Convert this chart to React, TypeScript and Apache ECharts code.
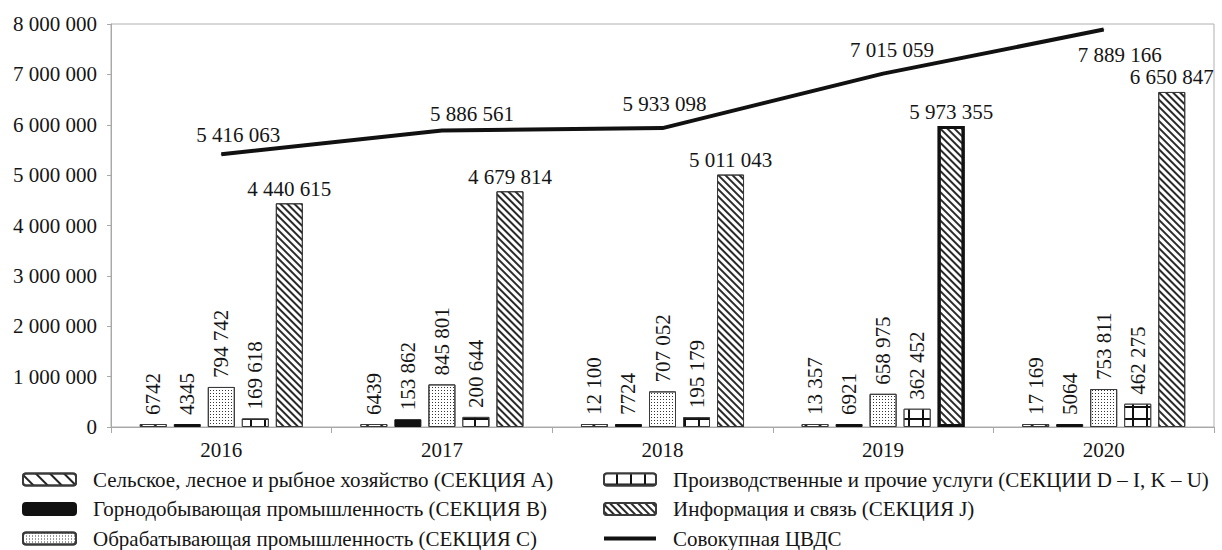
import React, { useEffect, useRef } from "react";
import * as echarts from "echarts";

const years = ["2016", "2017", "2018", "2019", "2020"];
const nameA = "Сельское, лесное и рыбное хозяйство (СЕКЦИЯ A)";
const nameB = "Горнодобывающая промышленность (СЕКЦИЯ B)";
const nameC = "Обрабатывающая промышленность (СЕКЦИЯ C)";
const nameD = "Производственные и прочие услуги (СЕКЦИИ D – I, K – U)";
const nameJ = "Информация и связь (СЕКЦИЯ J)";
const nameT = "Совокупная ЦВДС";

const agriculture = [6742, 6439, 12100, 13357, 17169];
const mining = [4345, 153862, 7724, 6921, 5064];
const manufacturing = [794742, 845801, 707052, 658975, 753811];
const services = [169618, 200644, 195179, 362452, 462275];
const ict = [4440615, 4679814, 5011043, 5973355, 6650847];
const total = [5416063, 5886561, 5933098, 7015059, 7889166];

const yTicks = { min: 0, max: 8000000, interval: 1000000 };
// style only: label offsets for total line labels, highlighted ICT bar
const totalLabelOffsets = [[17, -3], [30, 0], [2, -8], [9, -8], [16, 41]];
const emphasizedIctIndex = 3;

const FONT = "Liberation Serif";
const TXT = "#151515";
const FS = 21;

function fmt(v: number): string {
  const s = String(Math.round(v));
  if (v < 10000) return s;
  return s.replace(/\B(?=(\d{3})+(?!\d))/g, " ");
}

export default function App() {
  const ref = useRef<HTMLDivElement>(null);
  useEffect(() => {
    if (!ref.current) return;
    const chart = echarts.init(ref.current, undefined, { renderer: "svg" });
    const vLabel = {
      show: true,
      position: "top",
      rotate: 90,
      align: "left",
      verticalAlign: "middle",
      distance: 9,
      fontFamily: FONT,
      fontSize: FS,
      color: TXT,
      formatter: (p: any) => fmt(p.value),
    };
    const border = { borderColor: "#3a3a3a", borderWidth: 1 };
    const legendText = { fontFamily: FONT, fontSize: FS, color: TXT, padding: [0, 0, 0, 12] };
    const option: any = {
      animation: false,
      textStyle: { fontFamily: FONT, color: TXT },
      grid: {
        left: 111,
        right: 8,
        top: 24,
        bottom: 123,
        show: true,
        borderColor: "#b0b0b0",
        borderWidth: 1,
        containLabel: false,
      },
      legend: [
        {
          left: 22,
          top: 469,
          padding: 0,
          orient: "vertical",
          itemWidth: 53,
          itemHeight: 12,
          itemGap: 8.5,
          data: [nameA, nameB, nameC],
          textStyle: legendText,
        },
        {
          left: 603,
          top: 469,
          padding: 0,
          orient: "vertical",
          itemWidth: 52,
          itemHeight: 12,
          itemGap: 8.5,
          data: [nameD, nameJ, { name: nameT, icon: "path://M0 0H52V4H0Z" }],
          textStyle: legendText,
        },
      ],
      xAxis: {
        type: "category",
        data: years,
        boundaryGap: true,
        axisLine: { show: true, lineStyle: { color: "#a8a8a8", width: 1 } },
        axisTick: { show: true, alignWithLabel: false, length: 6, lineStyle: { color: "#a8a8a8" } },
        axisLabel: { fontFamily: FONT, fontSize: FS, color: TXT, margin: 12 },
        splitLine: { show: false },
      },
      yAxis: {
        type: "value",
        min: yTicks.min,
        max: yTicks.max,
        interval: yTicks.interval,
        axisLine: { show: true, lineStyle: { color: "#a8a8a8", width: 1 } },
        axisTick: { show: true, length: 4, lineStyle: { color: "#a8a8a8" } },
        axisLabel: { fontFamily: FONT, fontSize: FS, color: TXT, margin: 14, formatter: (v: number) => fmt(v) },
        splitLine: { show: false },
      },
      series: [
        {
          name: nameA,
          type: "bar",
          barWidth: 27,
          barGap: "26%",
          barMinHeight: 3,
          data: agriculture,
          itemStyle: {
            color: "#ffffff",
            ...border,
            decal: {
              symbol: "rect",
              symbolSize: 1,
              color: "#222",
              backgroundColor: "rgba(0,0,0,0)",
              dashArrayX: [1, 0],
              dashArrayY: [1.3, 8],
              rotation: Math.PI / 4,
            },
          },
          label: vLabel,
        },
        {
          name: nameB,
          type: "bar",
          barWidth: 27,
          barGap: "26%",
          barMinHeight: 3,
          data: mining,
          itemStyle: { color: "#111", borderColor: "#111", borderWidth: 1 },
          label: vLabel,
        },
        {
          name: nameC,
          type: "bar",
          barWidth: 27,
          barGap: "26%",
          data: manufacturing,
          itemStyle: {
            color: "#ffffff",
            ...border,
            decal: {
              symbol: "rect",
              symbolSize: 1,
              color: "#333",
              backgroundColor: "rgba(0,0,0,0)",
              dashArrayX: [1, 1.5],
              dashArrayY: [1, 1.5],
              rotation: 0,
            },
          },
          label: vLabel,
        },
        {
          name: nameD,
          type: "bar",
          barWidth: 27,
          barGap: "26%",
          data: services,
          itemStyle: {
            color: "#111",
            ...border,
            decal: {
              symbol: "rect",
              symbolSize: 1,
              color: "#ffffff",
              backgroundColor: "rgba(0,0,0,0)",
              dashArrayX: [11.5, 1.5],
              dashArrayY: [9.5, 1.5],
              rotation: 0,
            },
          },
          label: vLabel,
        },
        {
          name: nameJ,
          type: "bar",
          barWidth: 27,
          barGap: "26%",
          data: ict.map((v, i) =>
            i === emphasizedIctIndex
              ? { value: v, itemStyle: { borderColor: "#111", borderWidth: 3 } }
              : v
          ),
          itemStyle: {
            color: "#ffffff",
            ...border,
            decal: {
              symbol: "rect",
              symbolSize: 1,
              color: "#2a2a2a",
              backgroundColor: "rgba(0,0,0,0)",
              dashArrayX: [1, 0],
              dashArrayY: [1.1, 3],
              rotation: Math.PI / 4,
            },
          },
          label: {
            show: true,
            position: "top",
            distance: 4,
            fontFamily: FONT,
            fontSize: FS,
            color: TXT,
            formatter: (p: any) => fmt(p.value),
          },
        },
        {
          name: nameT,
          type: "line",
          symbol: "circle",
          symbolSize: 1,
          showSymbol: true,
          data: total.map((v, i) => ({ value: v, label: { offset: totalLabelOffsets[i] } })),
          lineStyle: { color: "#111", width: 4 },
          itemStyle: { color: "#111" },
          label: {
            show: true,
            position: "top",
            distance: 5,
            fontFamily: FONT,
            fontSize: FS,
            color: TXT,
            formatter: (p: any) => fmt(p.value),
          },
          z: 5,
        },
      ],
    };
    chart.setOption(option);
    return () => chart.dispose();
  }, []);
  return (
    <div
      ref={ref}
      style={{ position: "absolute", left: 0, top: 0, width: 1222, height: 550 }}
    />
  );
}
